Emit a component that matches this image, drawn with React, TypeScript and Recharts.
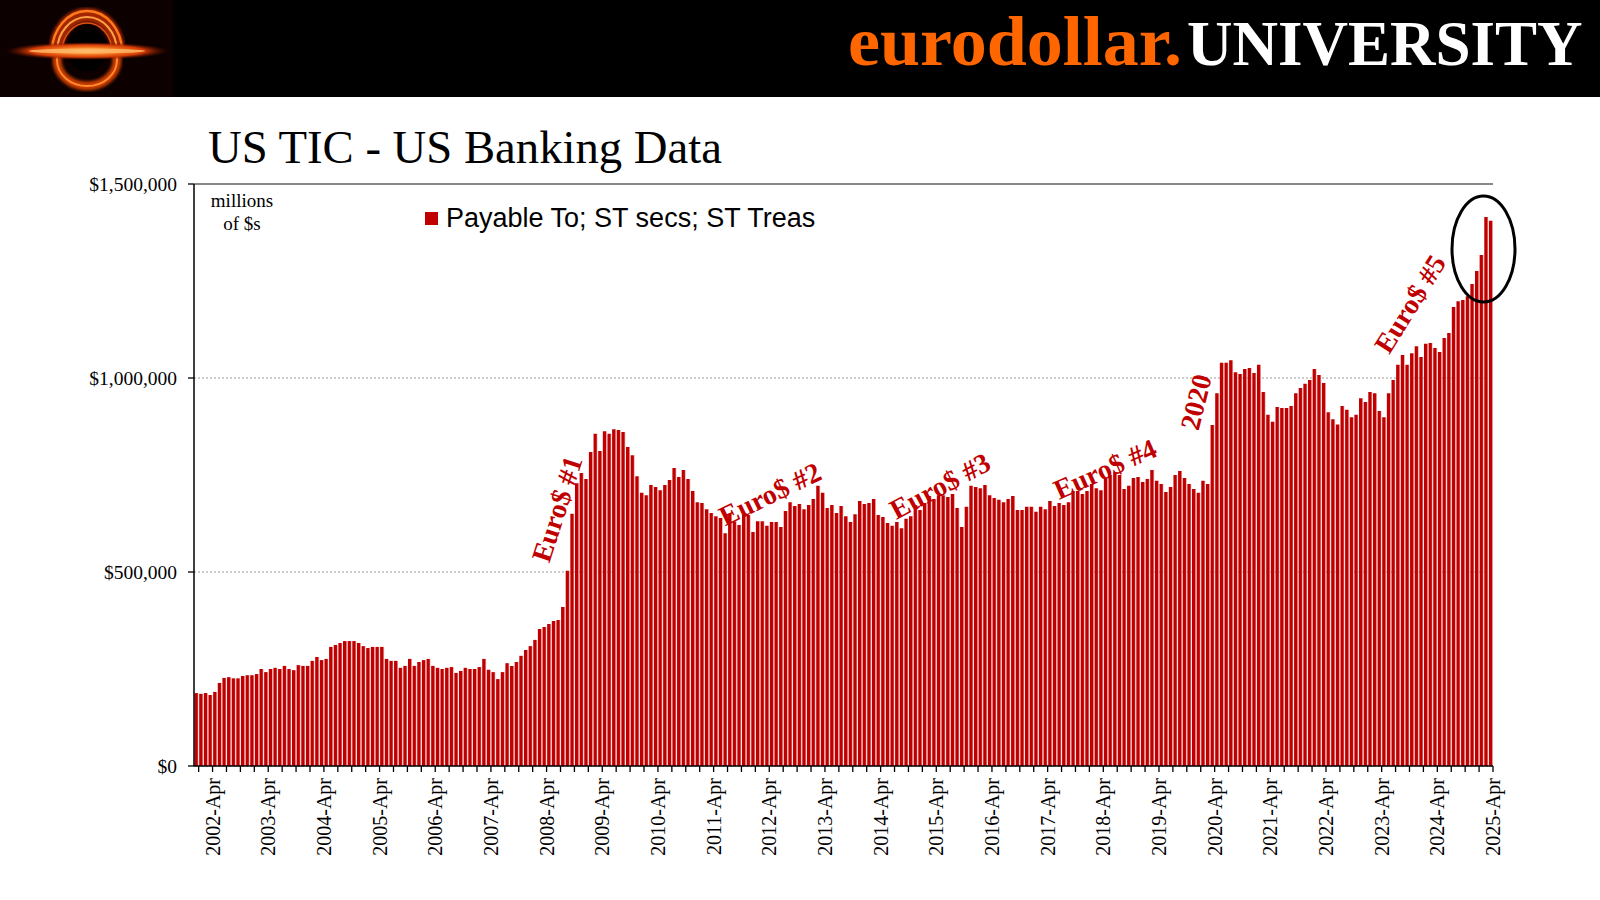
import React from 'react';
import { BarChart, Bar, XAxis, YAxis, CartesianGrid, Legend, ReferenceLine } from 'recharts';

// ---- categories ----
const START_YEAR = 2002;
const MONTHS = ['Jan', 'Feb', 'Mar', 'Apr', 'May', 'Jun', 'Jul', 'Aug', 'Sep', 'Oct', 'Nov', 'Dec'];

// ---- series values ($ billions; Jan..Dec) ----
const S2002 = [188, 186, 188, 183, 191, 214, 227, 229, 226, 226, 232, 234];
const S2003 = [234, 237, 250, 242, 250, 253, 250, 258, 250, 247, 260, 258];
const S2004 = [258, 271, 281, 273, 276, 307, 312, 317, 322, 322, 322, 317];
const S2005 = [309, 304, 307, 307, 307, 276, 271, 271, 253, 258, 276, 258];
const S2006 = [268, 273, 276, 258, 253, 250, 253, 255, 240, 245, 253, 250];
const S2007 = [250, 255, 276, 248, 242, 224, 242, 265, 258, 268, 284, 299];
const S2008 = [309, 325, 353, 358, 366, 374, 376, 410, 503, 650, 729, 755];
const S2009 = [740, 809, 856, 812, 863, 856, 868, 866, 861, 822, 801, 747];
const S2010 = [704, 698, 724, 719, 711, 724, 737, 768, 745, 763, 740, 709];
const S2011 = [680, 678, 662, 652, 644, 639, 600, 650, 630, 621, 647, 647];
const S2012 = [603, 631, 631, 619, 629, 629, 616, 657, 680, 670, 675, 662];
const S2013 = [673, 688, 722, 704, 665, 673, 652, 670, 644, 629, 649, 683];
const S2014 = [675, 678, 688, 647, 642, 626, 619, 629, 613, 637, 644, 673];
const S2015 = [660, 678, 696, 688, 698, 698, 693, 701, 665, 616, 668, 722];
const S2016 = [719, 716, 724, 698, 691, 686, 680, 688, 696, 660, 660, 668];
const S2017 = [668, 655, 668, 662, 683, 670, 678, 673, 680, 709, 709, 701];
const S2018 = [709, 727, 716, 711, 740, 750, 758, 750, 714, 722, 742, 745];
const S2019 = [732, 740, 763, 735, 727, 706, 719, 750, 760, 742, 727, 714];
const S2020 = [704, 735, 727, 879, 961, 1039, 1039, 1046, 1015, 1010, 1023, 1026];
const S2021 = [1013, 1034, 964, 905, 887, 925, 923, 923, 928, 961, 974, 985];
const S2022 = [995, 1023, 1008, 987, 912, 894, 880, 928, 918, 899, 905, 948];
const S2023 = [938, 964, 961, 915, 899, 961, 995, 1034, 1059, 1034, 1064, 1082];
const S2024 = [1054, 1088, 1090, 1077, 1067, 1103, 1116, 1183, 1198, 1201, 1211, 1242];
const S2025 = [1276, 1317, 1415, 1405];

const YEARS = [S2002, S2003, S2004, S2005, S2006, S2007, S2008, S2009, S2010, S2011, S2012, S2013,
  S2014, S2015, S2016, S2017, S2018, S2019, S2020, S2021, S2022, S2023, S2024, S2025];

// ---- axis ticks ----
const Y_TICKS = [0, 500000, 1000000, 1500000];

const SERIES_NAME = 'Payable To; ST secs; ST Treas';

const data = YEARS.flatMap((arr, yi) =>
  arr.map((b, mi) => ({ m: `${START_YEAR + yi}-${MONTHS[mi]}`, v: b * 1000 }))
);

// ---- layout ----
const W = 1600;
const H = 900;
const LEFT = 194;
const TOP = 184;
const PLOT_W = 1299;
const PLOT_H = 582;
const AXIS_Y = TOP + PLOT_H;
const BAND = PLOT_W / data.length;
const SERIF = '"Liberation Serif", "Times New Roman", serif';
const SANS = '"Liberation Sans", Arial, sans-serif';
const RED = '#C00000';

const fmtMoney = (v: number) => '$' + v.toLocaleString('en-US');

const XTick = (props: any) => {
  const { x, payload } = props;
  const i: number = props.index ?? payload?.index ?? 0;
  const label = String(payload?.value ?? '');
  const edge = x + BAND / 2;
  const isApr = label.endsWith('-Apr');
  return (
    <g>
      {i % 3 === 0 && (
        <line x1={edge} x2={edge} y1={AXIS_Y} y2={AXIS_Y + 6} stroke="#000" strokeWidth={1.3} />
      )}
      {isApr && (
        <text
          x={edge}
          y={AXIS_Y + 12}
          transform={`rotate(-90 ${edge} ${AXIS_Y + 12})`}
          textAnchor="end"
          dy="0.35em"
          fontFamily={SERIF}
          fontSize={20}
          fill="#000"
        >
          {label}
        </text>
      )}
    </g>
  );
};

const LegendContent = (props: any) => {
  const item = props.payload && props.payload[0];
  return (
    <div style={{ display: 'flex', alignItems: 'center', fontFamily: SANS, fontSize: 27, lineHeight: '30px', color: '#000', whiteSpace: 'nowrap' }}>
      <span style={{ display: 'inline-block', width: 13, height: 13, background: RED, marginRight: 8 }} />
      {item ? item.value : SERIES_NAME}
    </div>
  );
};

const Annotation = ({ x, y, angle, text }: { x: number; y: number; angle: number; text: string }) => (
  <text
    x={x}
    y={y}
    transform={`rotate(${angle} ${x} ${y})`}
    textAnchor="middle"
    dominantBaseline="central"
    fontFamily={SERIF}
    fontWeight="bold"
    fontSize={28}
    fill={RED}
  >
    {text}
  </text>
);

export default function App() {
  return (
    <div style={{ position: 'absolute', left: 0, top: 0, width: W, height: H, background: '#fff', overflow: 'hidden' }}>
      <svg width={0} height={0} style={{ position: 'absolute' }}>
        <defs>
          <linearGradient id="barGrad" x1="0" y1="0" x2="1" y2="0">
            <stop offset="0%" stopColor="#C00000" />
            <stop offset="68%" stopColor="#C00000" />
            <stop offset="84%" stopColor="#DC6a6a" />
            <stop offset="100%" stopColor="#F0C0C0" />
          </linearGradient>
        </defs>
      </svg>

      <div style={{ position: 'absolute', left: 0, top: 0 }}>
        <BarChart
          width={W}
          height={H}
          data={data}
          margin={{ top: TOP, right: W - LEFT - PLOT_W, left: LEFT - 100, bottom: H - AXIS_Y - 100 }}
          barCategoryGap="12%"
        >
          <CartesianGrid vertical={false} stroke="#9a9a9a" strokeDasharray="2 2" />
          <XAxis
            dataKey="m"
            interval={0}
            height={100}
            tickLine={false}
            axisLine={{ stroke: '#000', strokeWidth: 1.5 }}
            tick={<XTick />}
          />
          <YAxis
            width={100}
            domain={[0, 1500000]}
            ticks={Y_TICKS}
            tickFormatter={fmtMoney}
            tickSize={6}
            tickMargin={11}
            tickLine={{ stroke: '#000', strokeWidth: 1.3 }}
            axisLine={{ stroke: '#000', strokeWidth: 1.5 }}
            tick={{ fontFamily: SERIF, fontSize: 19.5, fill: '#000' }}
            allowDataOverflow
          />
          <YAxis
            yAxisId="r"
            orientation="right"
            width={0}
            domain={[0, 1]}
            tick={false}
            tickLine={false}
            axisLine={{ stroke: '#888', strokeWidth: 2 }}
          />
          <Bar dataKey="v" name={SERIES_NAME} fill="url(#barGrad)" isAnimationActive={false} />
          <ReferenceLine y={1500000} stroke="#888" strokeWidth={2} />
          <Legend
            layout="horizontal"
            verticalAlign="middle"
            align="center"
            content={<LegendContent />}
            wrapperStyle={{ left: 425, top: 203, width: 'auto', height: 30 }}
          />
        </BarChart>
      </div>

      <svg width={W} height={H} style={{ position: 'absolute', left: 0, top: 0, pointerEvents: 'none' }}>
        <defs>
          <radialGradient id="diskGrad" cx="50%" cy="50%" r="50%">
            <stop offset="0%" stopColor="#ffd690" />
            <stop offset="30%" stopColor="#ff8a2a" />
            <stop offset="70%" stopColor="#d23a05" />
            <stop offset="100%" stopColor="#5a0a00" stopOpacity="0" />
          </radialGradient>
          <clipPath id="upperClip"><rect x={0} y={0} width={173} height={50} /></clipPath>
          <clipPath id="lowerClip"><rect x={0} y={56} width={173} height={41} /></clipPath>
          <filter id="soft"><feGaussianBlur stdDeviation="1.5" /></filter>
        </defs>

        {/* header band */}
        <rect x={0} y={0} width={W} height={97} fill="#000" />
        <rect x={0} y={0} width={173} height={97} fill="#0c0100" />
        <g clipPath="url(#upperClip)">
          <ellipse cx={87} cy={52} rx={31} ry={37} fill="none" stroke="#a32600" strokeWidth={14} filter="url(#soft)" />
          <ellipse cx={87} cy={52} rx={35} ry={41} fill="none" stroke="#ff7a1a" strokeWidth={2.5} />
          <ellipse cx={87} cy={52} rx={30} ry={35} fill="none" stroke="#ffa048" strokeWidth={2} />
          <ellipse cx={87} cy={52} rx={25} ry={29} fill="none" stroke="#e05010" strokeWidth={1.5} />
        </g>
        <ellipse cx={87} cy={50} rx={20} ry={21} fill="#000" />
        <g clipPath="url(#lowerClip)">
          <ellipse cx={87} cy={60} rx={30} ry={26} fill="none" stroke="#c83a05" strokeWidth={9} filter="url(#soft)" />
          <ellipse cx={87} cy={60} rx={30} ry={26} fill="none" stroke="#ff8a30" strokeWidth={2} />
        </g>
        <ellipse cx={87} cy={51} rx={82} ry={9} fill="url(#diskGrad)" />
        <ellipse cx={87} cy={51} rx={58} ry={2.5} fill="#ffb868" opacity={0.85} />

        <text x={848} y={65} fontFamily={SERIF} fontWeight="bold" fontSize={70} fill="#FF6600" textLength={334} lengthAdjust="spacingAndGlyphs">eurodollar.</text>
        <text x={1187} y={65} fontFamily={SERIF} fontWeight="bold" fontSize={63} fill="#fff">UNIVERSITY</text>

        {/* title */}
        <text x={208} y={163} fontFamily={SERIF} fontSize={46.7} fill="#000">US TIC - US Banking Data</text>

        {/* units */}
        <text x={242} y={207} textAnchor="middle" fontFamily={SERIF} fontSize={19} fill="#000">millions</text>
        <text x={242} y={230} textAnchor="middle" fontFamily={SERIF} fontSize={19} fill="#000">of $s</text>

        {/* annotations */}
        <Annotation x={557} y={509} angle={-72} text="Euro$ #1" />
        <Annotation x={770} y={494} angle={-26} text="Euro$ #2" />
        <Annotation x={940} y={486} angle={-28} text="Euro$ #3" />
        <Annotation x={1105} y={469} angle={-24} text="Euro$ #4" />
        <Annotation x={1196} y={402} angle={-76} text="2020" />
        <Annotation x={1410} y={304} angle={-58} text="Euro$ #5" />

        <ellipse cx={1483.5} cy={249} rx={31.5} ry={53} fill="none" stroke="#000" strokeWidth={3} />
      </svg>
    </div>
  );
}
